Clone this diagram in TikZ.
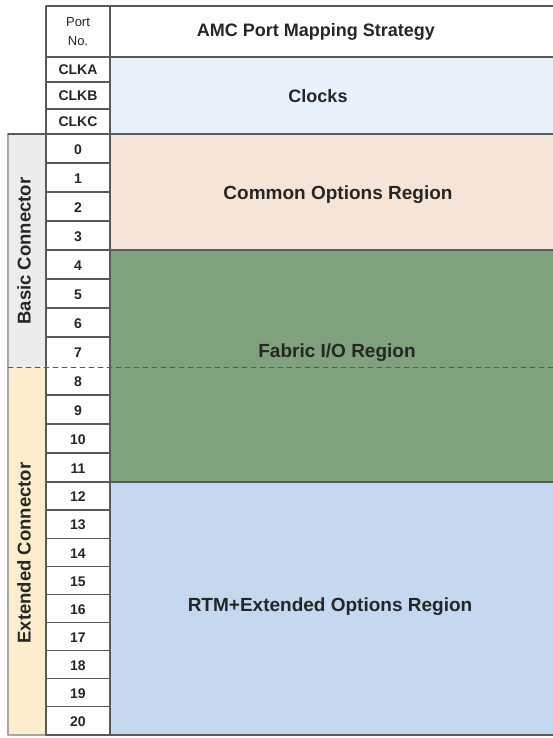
\documentclass[tikz,border=0pt]{standalone}
\usepackage{fontspec}
\setmainfont{Liberation Sans}
\definecolor{clkblue}{RGB}{233,242,252}
\definecolor{peach}{RGB}{246,229,215}
\definecolor{fabgreen}{RGB}{127,161,126}
\definecolor{rtmblue}{RGB}{197,216,240}
\definecolor{basicgray}{RGB}{236,236,236}
\definecolor{extyellow}{RGB}{252,237,204}
\definecolor{rule}{RGB}{90,90,90}
\definecolor{ink}{RGB}{38,38,38}
\tikzset{
	region/.style={text=ink, font=\fontsize{18}{20}\selectfont\bfseries},
	bigregion/.style={text=ink, font=\fontsize{19}{21}\selectfont\bfseries},
	portno/.style={text=ink, font=\fontsize{14}{16}\selectfont\bfseries},
	sidelabel/.style={text=ink, rotate=90, font=\fontsize{18.5}{20}\selectfont\bfseries},
	grid/.style={draw=rule, line width=1.3pt},
}
\begin{document}
\begin{tikzpicture}[x=1pt, y=-1pt, line join=round, line cap=round]
	\useasboundingbox (0,0) rectangle (553,738);
	\path
	(46,6) coordinate (NW)
	(110,6) coordinate (N)
	(553,6) coordinate (NE)
	(8,134) coordinate (S0)
	(8,367) coordinate (S8)
	(8,735) coordinate (SB)
	;
	% coloured bands
	\fill[clkblue] (110,57) rectangle (553,134);
	\fill[peach] (110,134) rectangle (553,250);
	\fill[fabgreen] (110,250) rectangle (553,482);
	\fill[rtmblue] (110,482) rectangle (553,735);
	\fill[basicgray] (S0) rectangle (46,367);
	\fill[extyellow] (S8) rectangle (46,735);
	% side bar frame
	\draw[gray!70, line width=1.2pt] (S0) -- (SB) -- (46,735);
	\draw[grid] (S0) -- (110,134);
	% header and clock rows
	\draw[grid] (NW) -- (NE);
	\draw[grid] (46,57) -- (553,57);
	\draw[grid] (46,82) -- (110,82);
	\draw[grid] (46,109) -- (110,109);
	\draw[grid] (110,134) -- (553,134);
	\draw[grid] (110,250) -- (553,250);
	\draw[grid] (110,482) -- (553,482);
	\draw[grid] (46,735) -- (553,735);
	\draw[grid] (NW) -- (46,735);
	\draw[grid] (N) -- (110,735);
	% port rows, 0 to 20
	\foreach \i in {0,...,20}{
		\pgfmathsetmacro\ytop{\i<12 ? 134+29*\i : 482+28.1*(\i-12)}
		\pgfmathsetmacro\ybot{\i<11 ? 134+29*(\i+1) : 482+28.1*(\i-11)}
		\node[portno] (p\i) at (78,{(\ytop+\ybot)/2+1}) {\i};
		\ifnum\i=7\else
			\draw[grid] (46,\ybot) -- (110,\ybot);
		\fi
	}
	\draw[rule, line width=0.9pt, dash pattern=on 5pt off 4pt] (S8) -- (553,367);
	% labels
	\node[text=ink, align=center, font=\fontsize{13}{19}\selectfont] (portnum) at (78,32) {Port\\No.};
	\node[region] (title) at (316,32) {AMC Port Mapping Strategy};
	\node[portno] (clka) at (78,70) {CLKA};
	\node[portno] (clkb) at (78,96) {CLKB};
	\node[portno] (clkc) at (78,122) {CLKC};
	\node[region] (clocks) at (318,96) {Clocks};
	\node[bigregion] (common) at (338,195) {Common Options Region};
	\node[bigregion] (fabric) at (337,353) {Fabric I/O Region};
	\node[bigregion] (rtm) at (330,607) {RTM+Extended Options Region};
	\node[sidelabel] (basic) at (24,251) {Basic Connector};
	\node[sidelabel] (ext) at (24,553) {Extended Connector};
\end{tikzpicture}
\end{document}
